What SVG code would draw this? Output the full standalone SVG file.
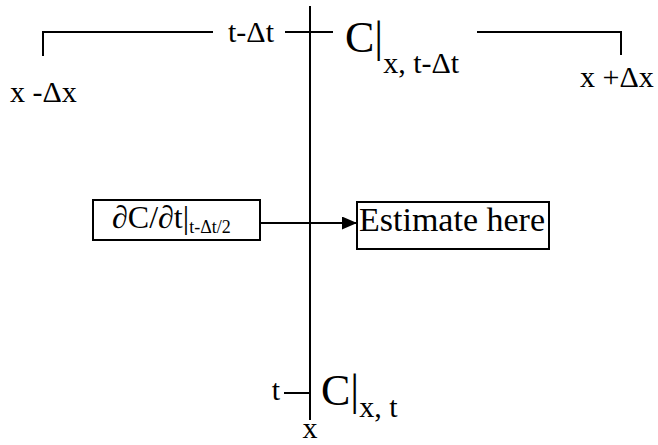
<svg xmlns="http://www.w3.org/2000/svg" width="658" height="445" viewBox="0 0 658 445">
<style>
text{font-family:"Liberation Serif","Times New Roman",serif;fill:#000}
.l{font-size:30px}
.big{font-size:44px}
.sub{font-size:30px}
.box{fill:#fff;stroke:#000;stroke-width:2}
.ln{stroke:#000;stroke-width:2;fill:none}
</style>
<defs>
<marker id="ah" markerWidth="15" markerHeight="13" refX="15" refY="6.5" orient="auto" markerUnits="userSpaceOnUse">
<path d="M0,0 L15,6.5 L0,13 Z" fill="#000"/>
</marker>
</defs>
<g id="connectors">
<line class="ln" x1="310" y1="6" x2="310" y2="420"/>
<polyline class="ln" points="43,56 43,32 213,32"/>
<line class="ln" x1="285" y1="32" x2="333" y2="32"/>
<polyline class="ln" points="477,32 621,32 621,55"/>
<line class="ln" x1="284" y1="393" x2="310" y2="393"/>
<line class="ln" x1="260" y1="223" x2="357" y2="223" marker-end="url(#ah)"/>
</g>
<g id="label-t-dt"><text class="l" x="251" y="42" text-anchor="middle">t-Δt</text></g>
<g id="label-x-minus"><text class="l" x="10" y="102">x -Δx</text></g>
<g id="label-x-plus"><text class="l" x="580" y="87">x +Δx</text></g>
<g id="label-C-top"><text class="big" x="345" y="52">C|<tspan class="sub" dy="21">x, t-Δt</tspan></text></g>
<g id="label-t"><text class="l" x="276" y="400" text-anchor="middle">t</text></g>
<g id="label-C-bottom"><text class="big" x="321" y="405">C|<tspan class="sub" dy="12">x, t</tspan></text></g>
<g id="label-x"><text class="l" x="310" y="438" text-anchor="middle" font-size="28">x</text></g>
<g id="box-derivative">
<rect class="box" x="93" y="200" width="167" height="40"/>
<text x="112" y="228" font-size="32">∂C/∂t|<tspan font-size="18" dy="5">t-Δt/2</tspan></text>
</g>
<g id="box-estimate">
<rect class="box" x="357" y="202" width="192" height="47"/>
<text x="359" y="231" font-size="34">Estimate here</text>
</g>
</svg>
